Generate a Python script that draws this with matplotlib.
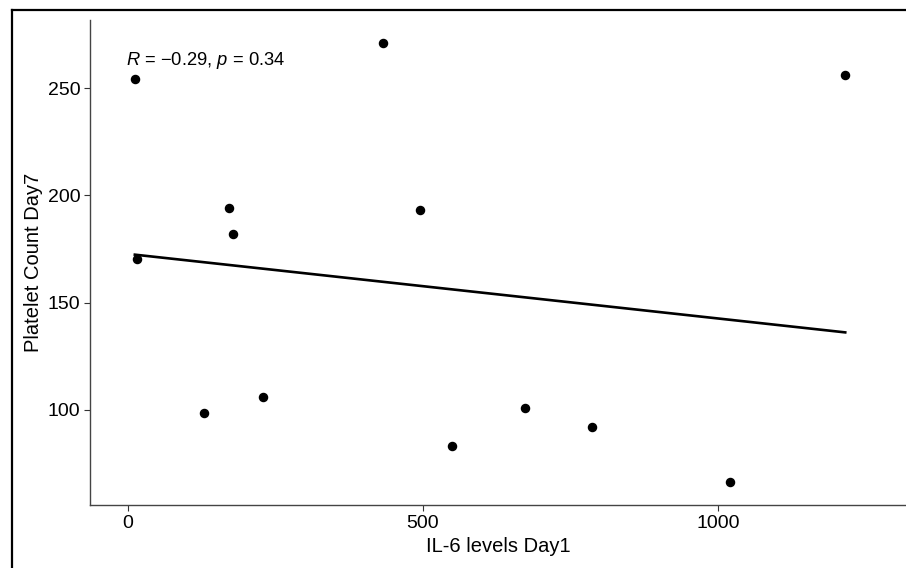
import matplotlib.pyplot as plt
import numpy as np
from matplotlib.lines import Line2D

plt.switch_backend('agg')
plt.rcParams['font.family'] = ['Liberation Sans', 'DejaVu Sans']
plt.rcParams['mathtext.fontset'] = 'custom'
plt.rcParams['mathtext.rm'] = 'Liberation Sans'
plt.rcParams['mathtext.it'] = 'Liberation Sans:italic'

# IL-6 day 1 vs platelet count day 7
il6_day1 = [12, 15, 129, 172, 179, 229, 433, 496, 550, 673, 786, 1020, 1216]
platelet_day7 = [254, 170.5, 98.5, 194, 182, 106, 271, 193, 83, 101, 92, 66.5, 256]
r_text = r'$\it{R}$ = $-$0.29, $\it{p}$ = 0.34'

x = np.array(il6_day1)
y = np.array(platelet_day7)

fig = plt.figure(figsize=(9.06, 5.68), dpi=100)
ax = fig.add_axes([90 / 906, 1 - 505 / 568, 816 / 906, 485 / 568])

ax.scatter(x, y, s=34, color='black', zorder=3)

# linear fit
slope, icpt = np.polyfit(x, y, 1)
xs = np.array([x.min(), x.max()])
ax.plot(xs, slope * xs + icpt, color='black', lw=1.9)

ax.text(-3, 263, r_text, fontsize=13.2, ha='left', va='center')

ax.set_xlim(-64, 1319)
ax.set_ylim(55.7, 281.7)
ax.set_xticks([0, 500, 1000])
ax.set_yticks([100, 150, 200, 250])
ax.set_xlabel('IL-6 levels Day1', fontsize=14.5, labelpad=4)
ax.set_ylabel('Platelet Count Day7', fontsize=14.5, labelpad=3.5)
ax.tick_params(labelsize=14, length=4, width=0.8, pad=3, color='#333333', labelcolor='black')

for side in ['top', 'right']:
    ax.spines[side].set_visible(False)
for side in ['left', 'bottom']:
    ax.spines[side].set_color('#444444')
    ax.spines[side].set_linewidth(1)

# frame of the screenshot
fig.add_artist(Line2D([11.5 / 906, 11.5 / 906], [0, 1 - 10 / 568], color='black', lw=1.6))
fig.add_artist(Line2D([11.5 / 906, 1], [1 - 10 / 568, 1 - 10 / 568], color='black', lw=1.6))

plt.savefig('out.png', dpi=100)
